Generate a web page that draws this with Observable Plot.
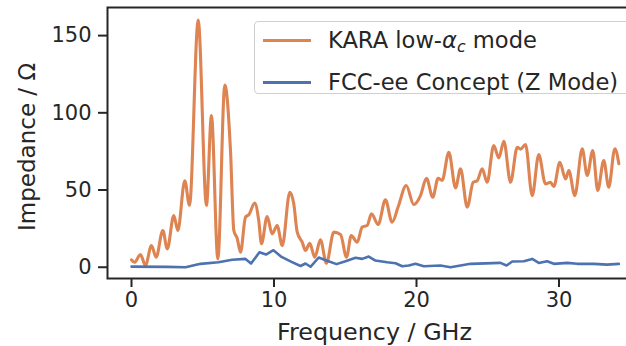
<!DOCTYPE html>
<html>
<head>
<meta charset="utf-8">
<script src="https://cdn.jsdelivr.net/npm/d3@7"></script>
<script src="https://cdn.jsdelivr.net/npm/@observablehq/plot@0.6"></script>
<style>
  html, body { margin: 0; padding: 0; background: #fff; }
  body { width: 626px; height: 346px; overflow: hidden; }
  #wrap { position: relative; width: 626px; height: 346px; overflow: hidden; font-family: "DejaVu Sans", sans-serif; color: #262626; }
  #wrap svg { max-width: none !important; width: 660px; height: 346px; }
  #legend { position: absolute; left: 254px; top: 21px; width: 400px; height: 73px; box-sizing: border-box;
            border: 1px solid #d0d0d0; border-radius: 4px; background: rgba(255,255,255,0.85); font-size: 22.6px; }
  .row { position: absolute; left: 0; height: 26px; display: flex; align-items: center; white-space: nowrap; }
  .sw { display: inline-block; width: 48px; height: 3px; margin-left: 8px; margin-right: 17px; }
</style>
</head>
<body>
<div id="wrap"></div>
<script>
// ---- data ----
const karaFreq = [0.0,0.21,0.63,0.98,1.40,1.73,2.20,2.51,2.97,3.25,3.74,4.07,4.68,5.26,5.61,6.06,6.55,6.95,7.18,7.42,7.65,8.0,8.23,8.65,8.93,9.12,9.52,9.87,10.22,10.58,11.11,11.39,11.63,11.98,12.21,12.51,12.86,13.26,13.68,14.20,14.67,15.09,15.42,15.84,16.19,16.54,16.84,17.31,17.82,18.29,18.72,19.28,19.81,20.28,20.70,21.14,21.52,21.80,22.27,22.74,23.09,23.56,23.98,24.26,24.61,24.96,25.42,25.78,26.13,26.60,27.07,27.30,27.65,28.12,28.58,29.05,29.40,29.64,30.06,30.46,30.69,31.11,31.63,31.98,32.37,32.72,33.14,33.49,33.92,34.20];
const karaImp  = [4.8,3.2,8.2,1.1,14,6.5,23.8,11.9,33.5,23.8,56,40,160,40,98.3,5.4,118,75,23.8,18.6,9.7,32.4,34,41.5,30.2,15.2,32.8,21.6,27,14,48.6,41,22.7,16.2,10.8,15.5,6.5,17.7,2.6,22.7,21.2,6.5,20.5,16.2,26,27,34.6,27.7,43.6,29.1,39.3,52.9,40.6,46.4,57.6,45.3,57.6,56.2,74.5,51.4,63.7,38.9,55,56,63.7,55,78.8,70.8,81.6,55,77.7,76.5,79.5,46.4,73,54,55,52.3,68,57.2,62.6,46.4,76.7,59.4,75.6,49.7,69.1,51.8,76.7,67];

const fccFreq = [0,2.5,3.79,4.84,6.1,7.07,8.0,8.39,8.98,9.44,9.96,10.53,11.23,11.86,12.21,12.56,13.14,13.68,14.39,15.02,15.72,16.19,16.65,17.12,17.94,18.53,19.0,19.46,19.93,20.51,21.68,22.39,23.79,25.89,26.32,26.72,27.53,28.12,28.58,29.17,29.64,30.58,31.28,32.44,33.38,34.2];
const fccImp  = [0.4,0.2,0,2.2,3.2,4.8,5.4,2.4,9.7,8.2,11,6.7,3.5,0.8,2.4,0.3,6.3,4.3,2,3.9,6.1,5.4,6.9,4.3,3.2,2.6,0.6,1.1,2.2,0.6,1.1,0,2.2,2.8,1.1,3.7,3.9,5.4,2.8,3.9,2.2,2.8,2.2,2.2,1.7,2.2];

const xTicks = [0, 10, 20, 30];
const yTicks = [0, 50, 100, 150];
const xDomain = [-1.684, 35.79];
const yDomain = [-7.3, 168.2];
const xLabel = "Frequency / GHz";
const yLabel = "Impedance / Ω";
const seriesNames = ["KARA low-αc mode", "FCC-ee Concept (Z Mode)"];
const seriesColors = ["#dd8452", "#4c72b0"];

const kara = karaFreq.map((f, i) => ({f, z: karaImp[i]}));
const fcc = fccFreq.map((f, i) => ({f, z: fccImp[i]}));

const ink = "#262626";
const chart = Plot.plot({
  width: 660,
  height: 346,
  marginLeft: 107,
  marginRight: 19,
  marginTop: 7,
  marginBottom: 68,
  style: {fontFamily: "DejaVu Sans, sans-serif", color: ink, background: "transparent", maxWidth: "none"},
  x: {domain: xDomain},
  y: {domain: yDomain},
  marks: [
    Plot.line(kara, {x: "f", y: "z", stroke: seriesColors[0], strokeWidth: 3.1, curve: "monotone-x"}),
    Plot.line(fcc, {x: "f", y: "z", stroke: seriesColors[1], strokeWidth: 2.6}),
    Plot.frame({stroke: ink, strokeWidth: 2}),
    Plot.axisX({ticks: xTicks, tickSize: 9, tickPadding: 5, strokeWidth: 2, stroke: ink, fill: ink, fontSize: 21, label: null}),
    Plot.axisY({ticks: yTicks, tickSize: 9, tickPadding: 7, strokeWidth: 2, stroke: ink, fill: ink, fontSize: 21, label: null}),
    Plot.text([xLabel], {text: d => d, frameAnchor: "bottom", textAnchor: "middle", lineAnchor: "middle", dy: 54, fontSize: 23.8, fill: ink}),
    Plot.text([yLabel], {text: d => d, frameAnchor: "left", textAnchor: "middle", lineAnchor: "middle", dx: -80, dy: 4, rotate: -90, fontSize: 23, fill: ink})
  ]
});
const wrap = document.getElementById("wrap");
wrap.appendChild(chart);

// legend
const legend = document.createElement("div");
legend.id = "legend";
const labelsHtml = [
  'KARA low-<i style="font-family:\'DejaVu Sans\'">α</i><sub style="font-size:0.7em;font-style:italic;vertical-align:-0.25em;line-height:0">c</sub> mode',
  seriesNames[1]
];
[5, 47].forEach((top, i) => {
  const row = document.createElement("div");
  row.className = "row";
  row.style.top = (top) + "px";
  row.innerHTML = `<span class="sw" style="background:${seriesColors[i]}"></span><span>${labelsHtml[i]}</span>`;
  legend.appendChild(row);
});
wrap.appendChild(legend);
</script>
</body>
</html>
